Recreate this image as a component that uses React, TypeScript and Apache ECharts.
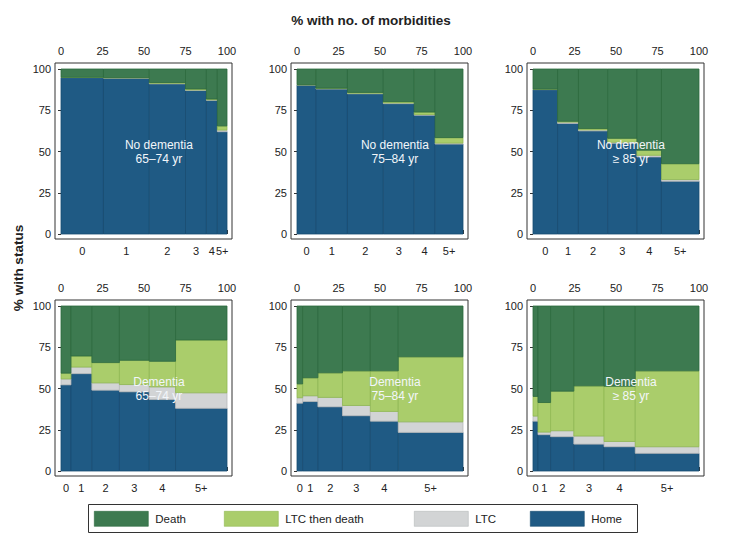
import React, { useEffect, useRef } from "react";
import * as echarts from "echarts";

const categories = ["0", "1", "2", "3", "4", "5+"];
const panelTitles = [
  "No dementia\n65–74 yr",
  "No dementia\n75–84 yr",
  "No dementia\n≥ 85 yr",
  "Dementia\n65–74 yr",
  "Dementia\n75–84 yr",
  "Dementia\n≥ 85 yr",
];
const outcomeNames = ["Home", "LTC", "LTC then death", "Death"];

// % with each number of morbidities (bar widths)
const widthP1 = [25.6, 27.6, 21.8, 12.6, 6.6, 5.8];
const widthP2 = [11.4, 19, 21.6, 18.6, 12.6, 16.8];
const widthP3 = [14.8, 12.6, 17.6, 17.6, 14.8, 22.6];
const widthP4 = [6, 12.6, 16.6, 18, 15.8, 31];
const widthP5 = [3.4, 9.2, 14.8, 16.8, 16.8, 39];
const widthP6 = [3, 7.6, 14, 18.2, 18.8, 38.4];

// % Home
const homeP1 = [94.8, 94.5, 91, 87, 81, 62];
const homeP2 = [90.3, 87.9, 85, 79, 72, 54.5];
const homeP3 = [87.5, 67, 62.5, 55, 46.7, 32];
const homeP4 = [52.2, 59, 49, 48, 43.3, 38];
const homeP5 = [41.1, 42.1, 38.9, 33.5, 30.2, 23.4];
const homeP6 = [30.2, 22, 20.8, 16.3, 14.7, 10.7];

// % LTC
const ltcP1 = [0.1, 0.1, 0.3, 0.3, 0.3, 1];
const ltcP2 = [0.1, 0.2, 0.3, 0.4, 0.4, 0.6];
const ltcP3 = [0.2, 0.8, 0.6, 0.6, 1, 1];
const ltcP4 = [3.6, 4, 4.4, 4.4, 7.7, 9.4];
const ltcP5 = [3.3, 3.5, 5.7, 6.2, 5.9, 6.4];
const ltcP6 = [3.1, 1.6, 3.6, 4.9, 3.2, 4];

// % LTC then death
const ltcDeathP1 = [0.1, 0.2, 0.5, 0.6, 0.5, 2.5];
const ltcDeathP2 = [0.1, 0.3, 0.5, 0.8, 1.5, 3.3];
const ltcDeathP3 = [0.1, 0.5, 0.8, 2.4, 3.1, 9.6];
const ltcDeathP4 = [3.5, 6.7, 12.3, 14.7, 15.5, 32];
const ltcDeathP5 = [8.4, 10.9, 14.9, 21, 24.6, 39.4];
const ltcDeathP6 = [11.9, 17.9, 24, 30.4, 33.5, 46];

const xTicks = [0, 25, 50, 75, 100];

const widths = [widthP1, widthP2, widthP3, widthP4, widthP5, widthP6];
const homes = [homeP1, homeP2, homeP3, homeP4, homeP5, homeP6];
const ltcs = [ltcP1, ltcP2, ltcP3, ltcP4, ltcP5, ltcP6];
const ltcDeaths = [ltcDeathP1, ltcDeathP2, ltcDeathP3, ltcDeathP4, ltcDeathP5, ltcDeathP6];

const FONT = '"Liberation Sans", Arial, Helvetica, sans-serif';
const colors: Record<string, { fill: string; stroke: string }> = {
  Death: { fill: "#3d7a50", stroke: "#2c6a3e" },
  "LTC then death": { fill: "#aacd6b", stroke: "#8fb753" },
  LTC: { fill: "#d2d4d5", stroke: "#b6b9ba" },
  Home: { fill: "#1f5a84", stroke: "#184b71" },
};

function buildOption() {
  const lefts = [61, 297, 533];
  const tops = [69, 306];
  const W = 166;
  const H = 165;
  const pad = 6;
  const grid: any[] = [];
  const xAxis: any[] = [];
  const yAxis: any[] = [];
  const series: any[] = [];

  for (let p = 0; p < 6; p++) {
    const L = lefts[p % 3];
    const T = tops[Math.floor(p / 3)];
    // frame grid
    grid.push({
      left: L - pad,
      top: T - pad,
      width: W + 2 * pad - 1,
      height: H + 2 * pad - 1,
      show: true,
      borderColor: "#333",
      borderWidth: 1,
      backgroundColor: "#fff",
      z: 0,
    });
    const fg = grid.length - 1;
    xAxis.push({ gridIndex: fg, type: "value", show: false, min: 0, max: 1 });
    yAxis.push({ gridIndex: fg, type: "value", show: false, min: 0, max: 1 });
    // data grid
    grid.push({ left: L, top: T, width: W, height: H, show: false });
    const dg = grid.length - 1;
    xAxis.push({
      gridIndex: dg,
      type: "value",
      position: "top",
      min: 0,
      max: 100,
      interval: 25,
      offset: pad,
      axisLine: { show: false },
      axisTick: { show: true, length: 4, lineStyle: { color: "#333" } },
      axisLabel: {
        show: true,
        margin: 7,
        color: "#222",
        fontSize: 11,
        fontFamily: FONT,
        formatter: (v: number) => (xTicks.includes(v) ? String(v) : ""),
      },
      splitLine: { show: false },
    });
    const xi = xAxis.length - 1;
    yAxis.push({
      gridIndex: dg,
      type: "value",
      position: "left",
      min: 0,
      max: 100,
      interval: 25,
      offset: pad,
      axisLine: { show: false },
      axisTick: { show: true, length: 3, lineStyle: { color: "#333" } },
      axisLabel: { show: true, margin: 4, color: "#222", fontSize: 11, fontFamily: FONT },
      splitLine: { show: false },
    });
    const yi = yAxis.length - 1;

    // boundaries
    const w = widths[p];
    const bounds: number[] = [0];
    for (let k = 0; k < w.length; k++) bounds.push(bounds[k] + w[k]);
    const total = bounds[bounds.length - 1];
    const scale = 100 / total;

    const segData: Record<string, number[][]> = { Home: [], LTC: [], "LTC then death": [], Death: [] };
    for (let k = 0; k < categories.length; k++) {
      const x0 = bounds[k] * scale;
      const x1 = bounds[k + 1] * scale;
      const h = homes[p][k];
      const l = ltcs[p][k];
      const ld = ltcDeaths[p][k];
      segData.Home.push([x0, x1, 0, h]);
      segData.LTC.push([x0, x1, h, h + l]);
      segData["LTC then death"].push([x0, x1, h + l, h + l + ld]);
      segData.Death.push([x0, x1, h + l + ld, 100]);
    }

    for (const name of outcomeNames) {
      const c = colors[name];
      series.push({
        type: "custom",
        name,
        xAxisIndex: xi,
        yAxisIndex: yi,
        itemStyle: { color: c.fill, borderColor: c.stroke },
        encode: { x: [0, 1], y: [2, 3] },
        data: segData[name],
        renderItem: (params: any, api: any) => {
          const a = api.coord([api.value(0), api.value(2)]);
          const b = api.coord([api.value(1), api.value(3)]);
          return {
            type: "rect",
            shape: { x: a[0], y: b[1], width: b[0] - a[0], height: a[1] - b[1] },
            style: { fill: c.fill, stroke: c.stroke, lineWidth: 0.8 },
          };
        },
        silent: true,
        z: 2,
      });
    }

    // category labels under bars
    const labelData = categories.map((cat, k) => [((bounds[k] + bounds[k + 1]) / 2) * scale, 0, k]);
    series.push({
      type: "custom",
      name: "labels" + p,
      xAxisIndex: xi,
      yAxisIndex: yi,
      data: labelData,
      encode: { x: 0, y: 1 },
      clip: false,
      silent: true,
      renderItem: (params: any, api: any) => {
        const pt = api.coord([api.value(0), api.value(1)]);
        return {
          type: "text",
          x: pt[0],
          y: pt[1] + 17,
          style: {
            text: categories[api.value(2)],
            align: "center",
            verticalAlign: "middle",
            fill: "#222",
            fontSize: 11,
            fontFamily: FONT,
          },
        };
      },
      z: 3,
    });

    // panel annotation
    series.push({
      type: "custom",
      name: "title" + p,
      xAxisIndex: xi,
      yAxisIndex: yi,
      data: [[59, 50]],
      encode: { x: 0, y: 1 },
      clip: false,
      silent: true,
      renderItem: (params: any, api: any) => {
        const pt = api.coord([api.value(0), api.value(1)]);
        return {
          type: "text",
          x: pt[0],
          y: pt[1],
          style: {
            text: panelTitles[p],
            align: "center",
            verticalAlign: "middle",
            fill: "#f2f6fa",
            fontSize: 12,
            lineHeight: 14,
            fontFamily: FONT,
          },
        };
      },
      z: 4,
    });
  }

  const legendOrder = ["Death", "LTC then death", "LTC", "Home"];
  const legendLefts = [94, 224, 414, 530];
  const legend = legendOrder.map((name, i) => ({
    left: legendLefts[i],
    top: 511,
    padding: 0,
    orient: "horizontal",
    icon: "rect",
    itemWidth: 54,
    itemHeight: 15,
    selectedMode: false,
    data: [
      {
        name,
        itemStyle: { color: colors[name].fill, borderColor: colors[name].stroke, borderWidth: 0.6 },
      },
    ],
    textStyle: { color: "#222", fontSize: 11.5, fontFamily: FONT, padding: [0, 0, 0, 2] },
  }));

  return {
    animation: false,
    backgroundColor: "#fff",
    grid,
    xAxis,
    yAxis,
    series,
    legend,
    graphic: [
      {
        type: "text",
        x: 371,
        y: 20,
        style: {
          text: "% with no. of morbidities",
          align: "center",
          verticalAlign: "middle",
          fill: "#222",
          fontSize: 13.5,
          fontWeight: "bold",
          fontFamily: FONT,
        },
      },
      {
        type: "text",
        x: 18,
        y: 268,
        rotation: Math.PI / 2,
        style: {
          text: "% with status",
          align: "center",
          verticalAlign: "middle",
          fill: "#222",
          fontSize: 13.5,
          fontWeight: "bold",
          fontFamily: FONT,
        },
      },
      {
        type: "rect",
        shape: { x: 88.5, y: 504.5, width: 549, height: 28 },
        style: { fill: "none", stroke: "#333", lineWidth: 1 },
        z: -1,
      },
    ],
  };
}

export default function App() {
  const ref = useRef<HTMLDivElement>(null);
  useEffect(() => {
    if (!ref.current) return;
    const chart = echarts.init(ref.current, null, { renderer: "svg" });
    chart.setOption(buildOption() as any);
    return () => chart.dispose();
  }, []);
  return (
    <div
      ref={ref}
      style={{ position: "fixed", left: 0, top: 0, width: 730, height: 551, background: "#fff" }}
    />
  );
}
